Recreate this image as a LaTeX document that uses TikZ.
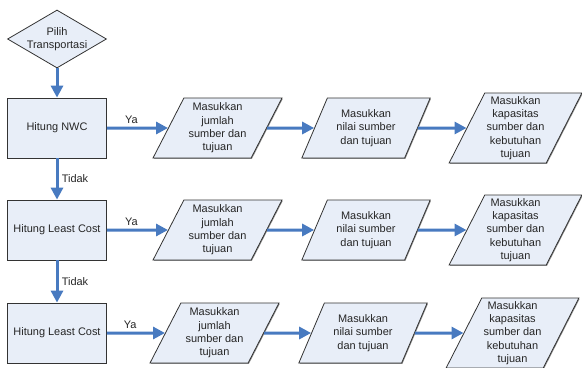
\documentclass[tikz,border=0pt]{standalone}
\usepackage{fontspec}
\setmainfont{Liberation Sans}
\usetikzlibrary{arrows.meta,positioning,shapes.geometric,shadows}
\definecolor{boxfill}{RGB}{232,238,248}
\definecolor{flowblue}{RGB}{72,122,192}
\tikzset{
  choice/.style={diamond,draw=black!80,fill=boxfill,line width=0.8bp,aspect=1.7,inner sep=-1.5bp,minimum width=99bp,minimum height=58bp,align=center,text=black!85},
  proc/.style={draw=black!80,fill=boxfill,line width=0.8bp,minimum width=99bp,minimum height=60bp,align=center,text=black!85,drop shadow={shadow xshift=0.8bp,shadow yshift=-0.8bp,fill=black!45,opacity=1}},
  inp/.style={trapezium,trapezium left angle=62,trapezium right angle=118,trapezium stretches=true,draw=black!80,fill=boxfill,line width=0.8bp,minimum width=129bp,minimum height=60bp,inner sep=0pt,align=center,text=black!85,drop shadow={shadow xshift=0.8bp,shadow yshift=-0.8bp,fill=black!45,opacity=1}},
  flow/.style={draw=flowblue,line width=3bp,-{Triangle[length=12bp,width=12bp]}},
}
\begin{document}
\begin{tikzpicture}[x=1bp,y=-1bp,font=\fontsize{11}{13.3}\selectfont]
\useasboundingbox (0,0) rectangle (582,367);
% start
\node[choice] (pilih) at (57,39) {Pilih\\Transportasi};
% three rows: method box and its three inputs
\foreach \r/\y/\d/\t in {1/128/0/Hitung NWC,2/230/0/Hitung Least Cost,3/333/3/Hitung Least Cost}{
  \node[proc] (hit\r) at (57,\y) {\t};
  \node[inp] (jml\r) at (217.5-\d,\y) {Masukkan\\jumlah\\sumber dan\\tujuan};
  \node[inp] (nil\r) at (366-\d,\y) {Masukkan\\nilai sumber\\dan tujuan};
  \node[inp,minimum height=70bp,minimum width=133bp] (kap\r) at (515.5-\d,\y) {Masukkan\\kapasitas\\sumber dan\\kebutuhan\\tujuan};
  \draw[flow] (hit\r) -- node[pos=0.4,above,text=black!85] {Ya} (jml\r);
  \draw[flow] (jml\r) -- (nil\r);
  \draw[flow] (nil\r) -- (kap\r);
}
\draw[flow] (pilih) -- (hit1);
\draw[flow] (hit1) -- node[right,text=black!85] {Tidak} (hit2);
\draw[flow] (hit2) -- node[right,text=black!85] {Tidak} (hit3);
\end{tikzpicture}
\end{document}
